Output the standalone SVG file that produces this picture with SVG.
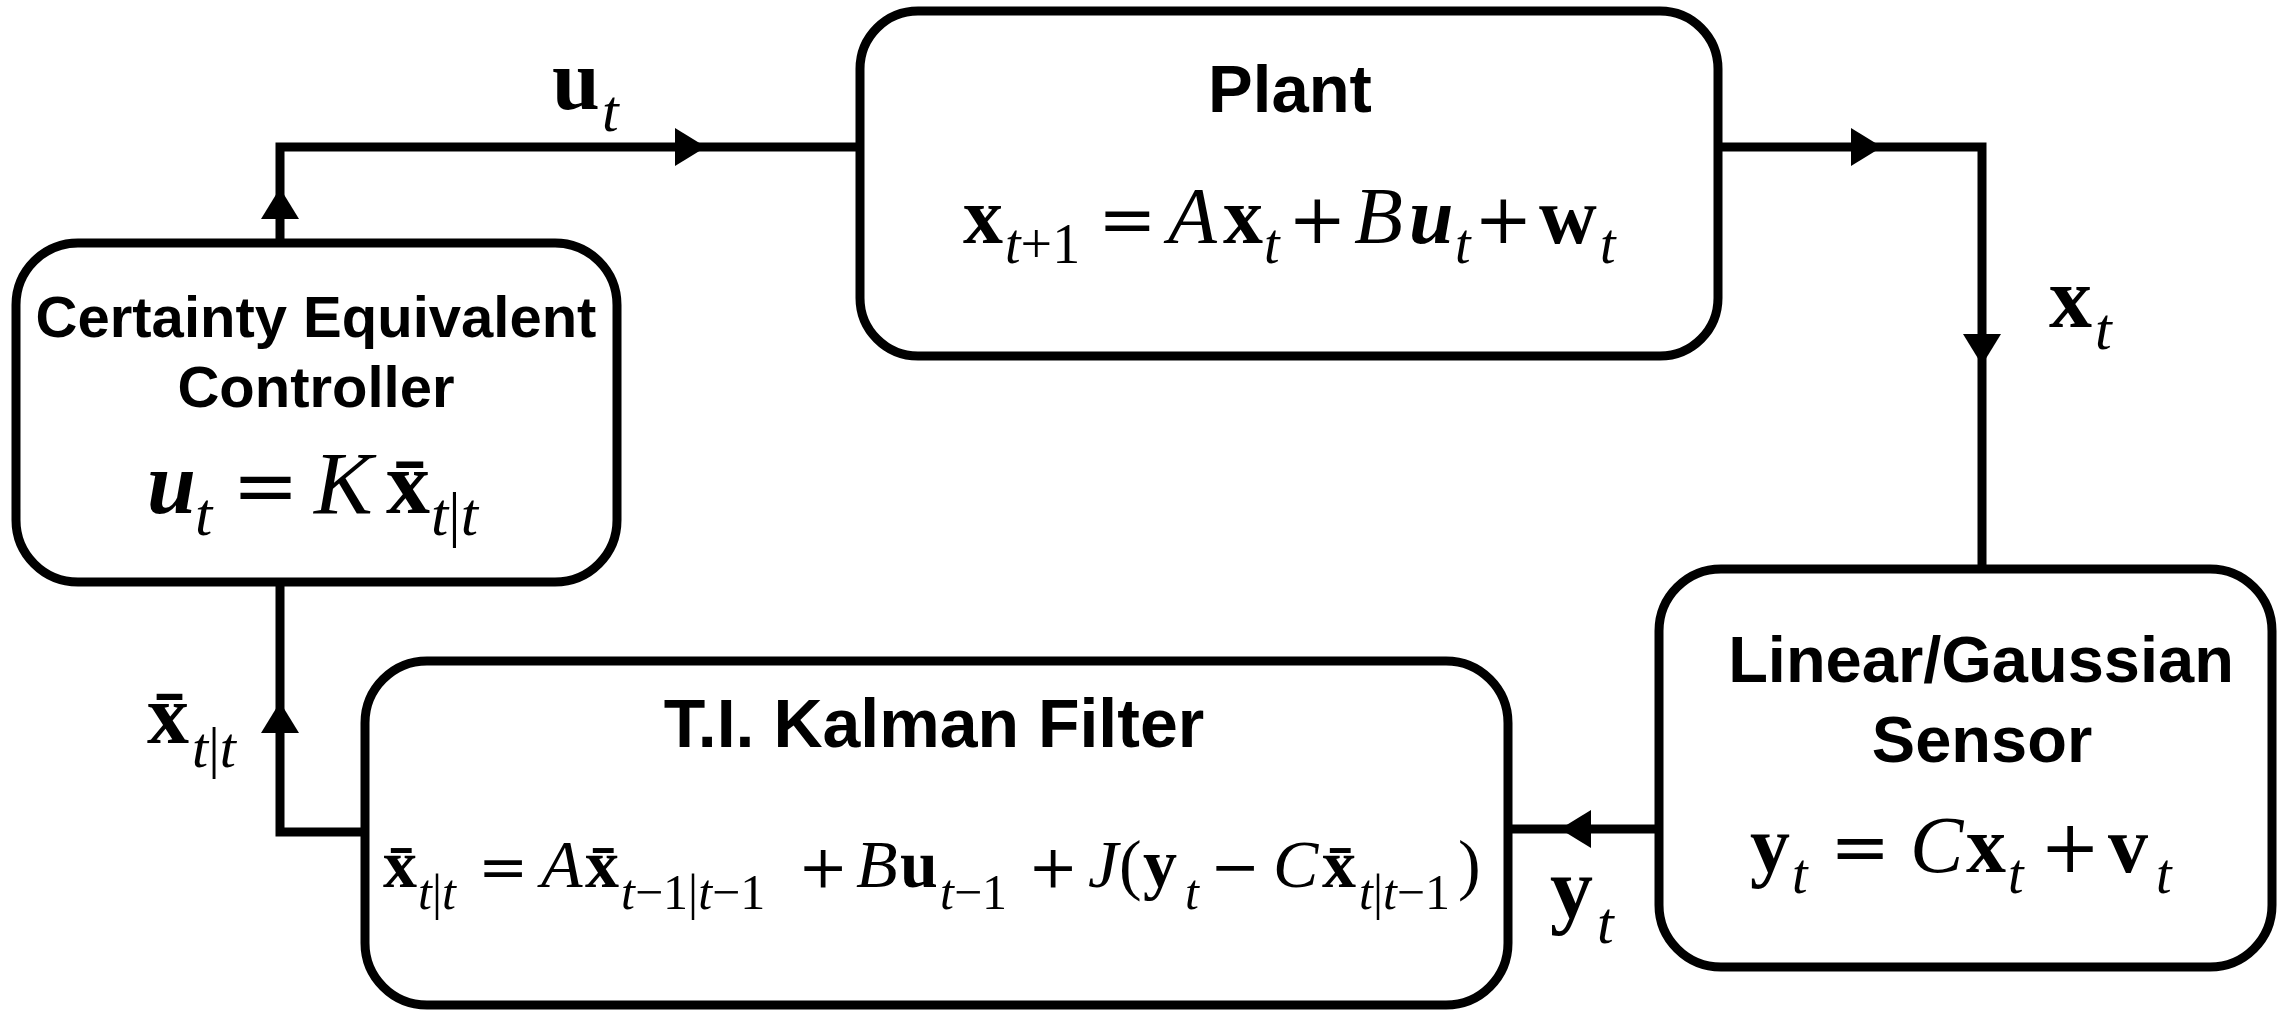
<svg xmlns="http://www.w3.org/2000/svg" width="2286" height="1018" viewBox="0 0 2286 1018">
<style>
.box{fill:#fff;stroke:#000;stroke-width:9}
.wire{fill:none;stroke:#000;stroke-width:9;stroke-linejoin:miter}
.ah{fill:#000}
.ttl{font-family:"Liberation Sans",Arial,Helvetica,sans-serif;font-weight:bold;text-anchor:middle;fill:#000}
.m{font-family:"Liberation Serif","Times New Roman",serif;fill:#000}
.b{font-weight:bold}
.i{font-style:italic}
.bi{font-weight:bold;font-style:italic}
.op{font-family:"DejaVu Serif",serif;font-weight:normal;font-style:normal}
</style>
<defs><path id="ah" class="ah" d="M0,0 L-31,-19 L-31,19 Z"/></defs>
<rect width="2286" height="1018" fill="#fff"/>

<g id="connectors">
<path class="wire" d="M280,243 V147 H860"/>
<path class="wire" d="M1718,147 H1982 V569"/>
<path class="wire" d="M1659,829 H1508"/>
<path class="wire" d="M365,832 H280 V582"/>
<use href="#ah" transform="translate(280,188) rotate(-90)"/>
<use href="#ah" transform="translate(706,147)"/>
<use href="#ah" transform="translate(1882,147)"/>
<use href="#ah" transform="translate(1982,365) rotate(90)"/>
<use href="#ah" transform="translate(1560,829) rotate(180)"/>
<use href="#ah" transform="translate(280,702) rotate(-90)"/>
<text class="m" font-size="86"><tspan class="b" x="552" y="109">u</tspan><tspan class="i" x="602" y="131" font-size="60">t</tspan></text>
<text class="m" font-size="86"><tspan class="b" x="2049" y="327">x</tspan><tspan class="i" x="2095" y="349" font-size="60">t</tspan></text>
<text class="m" font-size="86"><tspan class="b" x="1550" y="917">y</tspan><tspan class="i" x="1597" y="943" font-size="60">t</tspan></text>
<text class="m" font-size="84"><tspan class="b" x="147" y="743">x&#x304;</tspan><tspan x="192" y="767" font-size="58"><tspan class="i">t</tspan>|<tspan class="i">t</tspan></tspan></text>
</g>

<g id="controller">
<rect class="box" x="16" y="243" width="601" height="339" rx="62"/>
<text class="ttl" x="316" y="337" font-size="58">Certainty Equivalent</text>
<text class="ttl" x="316" y="407" font-size="58">Controller</text>
<text class="m" font-size="88"><tspan class="bi" x="147" y="513">u</tspan><tspan class="i" x="195" y="535" font-size="62">t</tspan><tspan class="op" x="232" y="513" font-size="80">=</tspan><tspan class="i" x="314" y="513">K</tspan><tspan class="b" x="386" y="513">x&#x304;</tspan><tspan x="431" y="535" font-size="62"><tspan class="i">t</tspan>|<tspan class="i">t</tspan></tspan></text>
</g>

<g id="plant">
<rect class="box" x="860" y="11" width="858" height="345" rx="58"/>
<text class="ttl" x="1290" y="112" font-size="67">Plant</text>
<text class="m" font-size="80"><tspan class="b" x="963" y="243">x</tspan><tspan x="1005" y="263" font-size="56"><tspan class="i">t</tspan>+1</tspan><tspan class="op" x="1098" y="243" font-size="70">=</tspan><tspan class="i" x="1168" y="243">A</tspan><tspan class="b" x="1223" y="243">x</tspan><tspan class="i" x="1264" y="263" font-size="56">t</tspan><tspan class="op" x="1288" y="243" font-size="70">+</tspan><tspan class="i" x="1354" y="243">B</tspan><tspan class="bi" x="1409" y="243">u</tspan><tspan class="i" x="1455" y="263" font-size="56">t</tspan><tspan class="op" x="1474" y="243" font-size="70">+</tspan><tspan class="b" x="1539" y="243">w</tspan><tspan class="i" x="1600" y="263" font-size="56">t</tspan></text>
</g>

<g id="sensor">
<rect class="box" x="1659" y="569" width="613" height="398" rx="62"/>
<text class="ttl" x="1981" y="682" font-size="65">Linear/Gaussian</text>
<text class="ttl" x="1982" y="762" font-size="65">Sensor</text>
<text class="m" font-size="80"><tspan class="b" x="1750" y="872">y</tspan><tspan class="i" x="1792" y="893" font-size="56">t</tspan><tspan class="op" x="1830" y="872" font-size="72">=</tspan><tspan class="i" x="1910" y="872">C</tspan><tspan class="b" x="1966" y="872">x</tspan><tspan class="i" x="2008" y="893" font-size="56">t</tspan><tspan class="op" x="2040" y="872" font-size="72">+</tspan><tspan class="b" x="2108" y="872">v</tspan><tspan class="i" x="2156" y="893" font-size="56">t</tspan></text>
</g>

<g id="kalman">
<rect class="box" x="365" y="661" width="1143" height="344" rx="62"/>
<text class="ttl" x="934" y="747" font-size="68">T.I. Kalman Filter</text>
<text class="m" font-size="68"><tspan class="b" x="383" y="887">x&#x304;</tspan><tspan x="418" y="909" font-size="50"><tspan class="i">t</tspan>|<tspan class="i">t</tspan></tspan><tspan class="op" x="478" y="887" font-size="60">=</tspan><tspan class="i" x="541" y="887">A</tspan><tspan class="b" x="585" y="887">x&#x304;</tspan><tspan x="621" y="909" font-size="50"><tspan class="i">t</tspan>−1|<tspan class="i">t</tspan>−1</tspan><tspan class="op" x="798" y="887" font-size="60">+</tspan><tspan class="i" x="856" y="887">B</tspan><tspan class="b" x="900" y="887">u</tspan><tspan x="940" y="909" font-size="50"><tspan class="i">t</tspan>−1</tspan><tspan class="op" x="1028" y="887" font-size="60">+</tspan><tspan class="i" x="1088" y="887">J</tspan><tspan x="1119" y="887">(</tspan><tspan class="b" x="1143" y="887">y</tspan><tspan class="i" x="1185" y="909" font-size="50">t</tspan><tspan class="op" x="1210" y="887" font-size="60">−</tspan><tspan class="i" x="1273" y="887">C</tspan><tspan class="b" x="1322" y="887">x&#x304;</tspan><tspan x="1359" y="909" font-size="50"><tspan class="i">t</tspan>|<tspan class="i">t</tspan>−1</tspan><tspan x="1458" y="887">)</tspan></text>
</g>
</svg>
